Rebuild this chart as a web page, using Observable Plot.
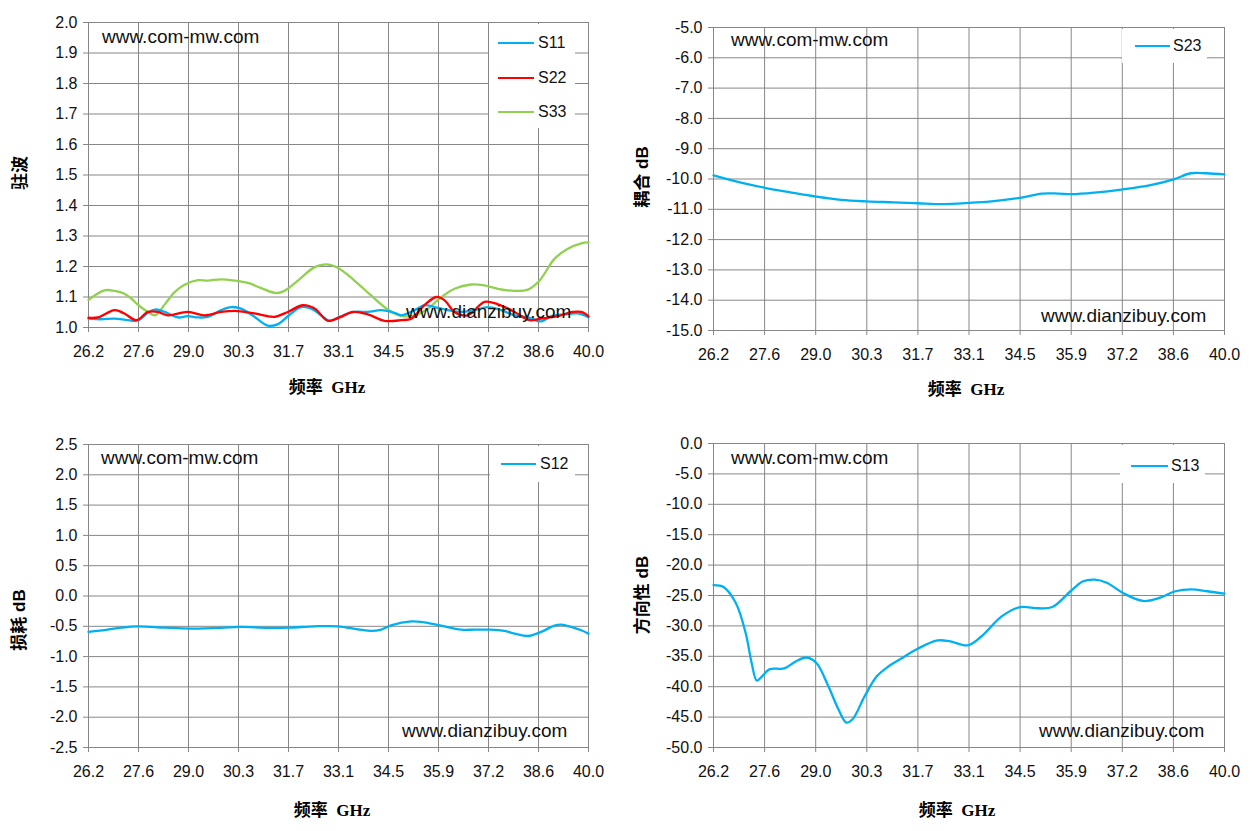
<!DOCTYPE html>
<html>
<head>
<meta charset="utf-8">
<script src="https://cdn.jsdelivr.net/npm/d3@7"></script>
<script src="https://cdn.jsdelivr.net/npm/@observablehq/plot@0.6"></script>
<style>
  html, body { margin: 0; padding: 0; background: #fff; }
  #root { position: relative; width: 1255px; height: 831px; overflow: hidden; background: #fff; }
  .panel { position: absolute; }
  .lbl { position: absolute; white-space: pre; color: #000; }
  .wm { position: absolute; white-space: pre; font-family: "Liberation Sans", Arial, sans-serif; font-size: 19px; color: #111; transform: translateY(-50%); }
  .legend { position: absolute; background: #fff; }
  .sw { position: absolute; height: 0; border-top: 2.5px solid; transform: translateY(-50%); }
  .legtxt { position: absolute; font-family: "Liberation Sans", Arial, sans-serif; font-size: 16px; color: #111; transform: translateY(-50%); }
  .xt { font-family: "Liberation Serif", "Noto Sans CJK SC", serif; font-weight: bold; font-size: 17px; transform: translate(-50%, -50%); }
  .yt { font-family: "Liberation Sans", "Noto Sans CJK SC", sans-serif; font-weight: bold; font-size: 17px; transform: translate(-50%, -50%) rotate(-90deg); }
</style>
</head>
<body>
<div id="root"></div>
<script>
// ---------- data ----------
const xTickLabels = ["26.2","27.6","29.0","30.3","31.7","33.1","34.5","35.9","37.2","38.6","40.0"];
const fMin = 26.2, fMax = 40.0;

const s11Freq = [26.20,26.55,26.92,27.29,27.56,27.84,28.07,28.30,28.67,28.94,29.22,29.49,29.86,30.14,30.41,30.78,31.15,31.43,31.79,32.07,32.35,32.62,32.85,33.17,33.54,33.91,34.28,34.65,34.83,35.20,35.47,35.75,36.12,36.49,36.85,37.22,37.59,37.96,38.33,38.69,38.97,39.34,39.71,40.00];
const s11Vals = [1.029,1.027,1.029,1.024,1.023,1.048,1.059,1.051,1.033,1.037,1.033,1.035,1.057,1.067,1.062,1.035,1.006,1.011,1.046,1.067,1.062,1.040,1.022,1.037,1.051,1.051,1.057,1.048,1.040,1.057,1.073,1.067,1.057,1.051,1.057,1.067,1.057,1.040,1.033,1.020,1.037,1.043,1.046,1.033];

const s22Freq = [26.20,26.46,26.92,27.19,27.52,27.84,28.11,28.39,28.94,29.40,29.86,30.32,30.78,31.33,31.70,32.12,32.44,32.81,33.13,33.50,33.91,34.37,34.83,35.11,35.47,35.80,36.03,36.30,36.67,37.13,37.50,37.96,38.37,38.69,39.15,39.57,39.80,40.00];
const s22Vals = [1.032,1.033,1.057,1.046,1.024,1.051,1.051,1.040,1.051,1.040,1.051,1.054,1.046,1.035,1.051,1.073,1.062,1.022,1.033,1.051,1.043,1.022,1.024,1.029,1.073,1.100,1.089,1.051,1.040,1.084,1.076,1.051,1.024,1.029,1.037,1.051,1.051,1.037];

const s33Freq = [26.20,26.64,26.92,27.15,27.38,27.58,27.84,28.04,28.30,28.57,28.85,29.22,29.49,29.86,30.23,30.60,30.97,31.38,31.61,31.98,32.44,32.76,33.08,33.54,34.00,34.46,34.83,35.20,35.57,35.89,36.30,36.76,37.13,37.50,37.96,38.33,38.65,39.06,39.43,39.80,40.00];
const s33Vals = [1.091,1.122,1.120,1.113,1.095,1.073,1.051,1.040,1.075,1.115,1.140,1.155,1.154,1.158,1.154,1.146,1.129,1.113,1.120,1.154,1.198,1.207,1.196,1.154,1.105,1.059,1.038,1.040,1.062,1.095,1.127,1.141,1.138,1.127,1.120,1.124,1.154,1.225,1.258,1.276,1.279];

const s23Freq = [26.20,26.94,27.59,28.24,28.97,29.65,30.34,31.06,31.72,32.36,33.10,33.77,34.48,35.07,35.51,35.88,36.48,37.26,38.00,38.63,39.09,39.52,40.00];
const s23Vals = [-9.88,-10.12,-10.29,-10.43,-10.58,-10.69,-10.74,-10.77,-10.80,-10.83,-10.79,-10.73,-10.62,-10.48,-10.48,-10.50,-10.45,-10.34,-10.20,-10.01,-9.81,-9.81,-9.85];

const s12Freq = [26.20,26.73,27.10,27.56,28.30,29.03,29.86,30.37,31.15,31.75,32.44,33.08,33.63,34.00,34.28,34.55,35.11,35.47,35.89,36.49,36.85,37.31,37.68,37.96,38.33,38.69,39.06,39.25,39.52,39.80,40.00];
const s12Vals = [-0.593,-0.555,-0.522,-0.500,-0.522,-0.538,-0.527,-0.511,-0.527,-0.522,-0.500,-0.500,-0.549,-0.577,-0.555,-0.484,-0.418,-0.434,-0.484,-0.555,-0.555,-0.555,-0.577,-0.621,-0.660,-0.593,-0.489,-0.473,-0.511,-0.566,-0.621];

const s13Freq = [26.20,26.47,26.80,27.07,27.23,27.37,27.51,27.72,28.11,28.43,28.71,28.98,29.30,29.58,29.79,29.96,30.28,30.61,30.94,31.26,31.70,32.25,32.57,33.07,33.44,33.99,34.48,34.97,35.35,35.84,36.17,36.49,36.82,37.26,37.80,38.24,38.67,39.11,39.54,40.00];
const s13Vals = [-23.3,-23.6,-26.2,-31.2,-36.1,-39.0,-38.3,-37.1,-37.0,-35.8,-35.2,-36.1,-39.9,-43.8,-45.9,-45.3,-41.6,-38.3,-36.6,-35.4,-33.8,-32.4,-32.5,-33.2,-31.7,-28.4,-26.9,-27.1,-26.9,-24.3,-22.7,-22.4,-22.9,-24.6,-25.9,-25.4,-24.3,-24.0,-24.3,-24.7];

const yTicksVSWR = [1.0,1.1,1.2,1.3,1.4,1.5,1.6,1.7,1.8,1.9,2.0];
const yTicksCoupling = [-15,-14,-13,-12,-11,-10,-9,-8,-7,-6,-5];
const yTicksLoss = [-2.5,-2.0,-1.5,-1.0,-0.5,0.0,0.5,1.0,1.5,2.0,2.5];
const yTicksDirect = [-50,-45,-40,-35,-30,-25,-20,-15,-10,-5,0];

const BLUE = "#00b0f0", RED = "#ff0000", GREEN = "#92d050", GRID = "#878787";

// ---------- helpers ----------
const xTicks = xTickLabels.map((_, i) => fMin + i * (fMax - fMin) / (xTickLabels.length - 1));
const root = document.getElementById("root");

function toRows(freq, vals, name) { return freq.map((f, i) => ({f, v: vals[i], s: name})); }

function panel({left, top, width, height, mt, mb, ml, mr, yDomain, yTicks, series}) {
  const marks = [
    Plot.gridX(xTicks, {stroke: GRID, strokeOpacity: 1, strokeWidth: 1}),
    Plot.gridY(yTicks, {stroke: GRID, strokeOpacity: 1, strokeWidth: 1}),
    Plot.axisX(xTicks, {tickSize: 5, tickPadding: 13, stroke: GRID, fill: "#111", label: null,
      tickFormat: (d, i) => xTickLabels[i]}),
    Plot.axisY(yTicks, {tickSize: 5, tickPadding: 6, stroke: GRID, fill: "#111", label: null,
      tickFormat: d => d.toFixed(1)})
  ];
  for (const s of series) {
    marks.push(Plot.line(toRows(s.freq, s.vals, s.name), {x: "f", y: "v", stroke: s.color, strokeWidth: 2.3, curve: "catmull-rom"}));
  }
  const svg = Plot.plot({
    width, height, marginTop: mt, marginBottom: mb, marginLeft: ml, marginRight: mr,
    x: {domain: [fMin, fMax]},
    y: {domain: yDomain},
    style: {fontFamily: "'Liberation Sans', Arial, sans-serif", fontSize: "16px", color: "#111", background: "transparent", overflow: "visible"},
    marks
  });
  const wrap = document.createElement("div");
  wrap.className = "panel";
  wrap.style.left = left + "px";
  wrap.style.top = top + "px";
  wrap.appendChild(svg);
  root.appendChild(wrap);
}

function addText(cls, text, x, y) {
  const d = document.createElement("div");
  d.className = cls;
  d.textContent = text;
  d.style.left = x + "px";
  d.style.top = y + "px";
  root.appendChild(d);
}

function legend(box, rows) {
  const d = document.createElement("div");
  d.className = "legend";
  Object.assign(d.style, {left: box.x + "px", top: box.y + "px", width: box.w + "px", height: box.h + "px"});
  root.appendChild(d);
  for (const r of rows) {
    const sw = document.createElement("div");
    sw.className = "sw";
    Object.assign(sw.style, {left: r.x0 + "px", top: r.y + "px", width: (r.x1 - r.x0) + "px", borderTopColor: r.color});
    root.appendChild(sw);
    const t = document.createElement("div");
    t.className = "legtxt";
    t.textContent = r.name;
    Object.assign(t.style, {left: r.tx + "px", top: r.y + "px"});
    root.appendChild(t);
  }
}

// ---------- panels ----------
panel({left: 0, top: 0, width: 620, height: 410, mt: 22, mb: 83, ml: 88, mr: 32,
  yDomain: [1.0, 2.0], yTicks: yTicksVSWR,
  series: [
    {name: "S33", freq: s33Freq, vals: s33Vals, color: GREEN},
    {name: "S11", freq: s11Freq, vals: s11Vals, color: BLUE},
    {name: "S22", freq: s22Freq, vals: s22Vals, color: RED}
  ]});
panel({left: 620, top: 0, width: 635, height: 410, mt: 27, mb: 80, ml: 93, mr: 31,
  yDomain: [-15, -5], yTicks: yTicksCoupling,
  series: [{name: "S23", freq: s23Freq, vals: s23Vals, color: BLUE}]});
panel({left: 0, top: 415, width: 620, height: 416, mt: 29, mb: 84, ml: 88, mr: 32,
  yDomain: [-2.5, 2.5], yTicks: yTicksLoss,
  series: [{name: "S12", freq: s12Freq, vals: s12Vals, color: BLUE}]});
panel({left: 620, top: 415, width: 635, height: 416, mt: 28, mb: 84, ml: 93, mr: 31,
  yDomain: [-50, 0], yTicks: yTicksDirect,
  series: [{name: "S13", freq: s13Freq, vals: s13Vals, color: BLUE}]});

// ---------- legends ----------
legend({x: 489, y: 24, w: 86, h: 104}, [
  {name: "S11", color: BLUE, y: 43, x0: 498, x1: 534, tx: 538},
  {name: "S22", color: RED, y: 78, x0: 498, x1: 534, tx: 538},
  {name: "S33", color: GREEN, y: 112, x0: 498, x1: 534, tx: 538}
]);
legend({x: 1122, y: 29, w: 85, h: 34}, [
  {name: "S23", color: BLUE, y: 46, x0: 1135, x1: 1170, tx: 1173}
]);
legend({x: 490, y: 446, w: 85, h: 36}, [
  {name: "S12", color: BLUE, y: 464, x0: 501, x1: 536, tx: 540}
]);
legend({x: 1120, y: 445, w: 85, h: 38}, [
  {name: "S13", color: BLUE, y: 466, x0: 1131, x1: 1168, tx: 1171}
]);

// ---------- watermarks ----------
addText("wm", "www.com-mw.com", 102, 37);
addText("wm", "www.dianzibuy.com", 406, 312);
addText("wm", "www.com-mw.com", 731, 40);
addText("wm", "www.dianzibuy.com", 1041, 316);
addText("wm", "www.com-mw.com", 101, 458);
addText("wm", "www.dianzibuy.com", 402, 731);
addText("wm", "www.com-mw.com", 731, 458);
addText("wm", "www.dianzibuy.com", 1039, 731);

// ---------- axis titles ----------
addText("lbl xt", "频率  GHz", 327, 385);
addText("lbl xt", "频率  GHz", 966, 387);
addText("lbl xt", "频率  GHz", 332, 808);
addText("lbl xt", "频率  GHz", 957, 808);
addText("lbl yt", "驻波", 18, 173);
addText("lbl yt", "耦合 dB", 640, 177);
addText("lbl yt", "损耗 dB", 17, 620);
addText("lbl yt", "方向性 dB", 640, 595);
</script>
</body>
</html>
